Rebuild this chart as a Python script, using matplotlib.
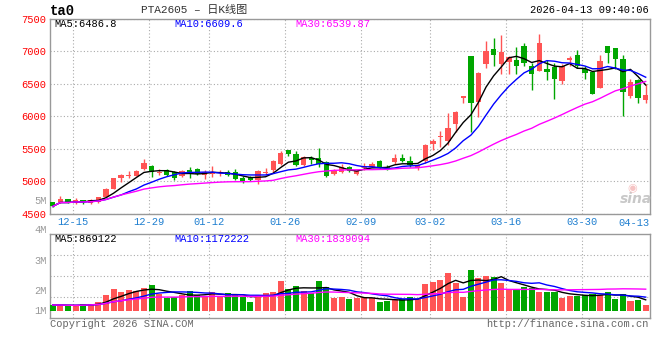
import numpy as np
import pandas as pd
import matplotlib
matplotlib.use("Agg")
import matplotlib.pyplot as plt

# -------------------------------------------------------------------
# Data (PTA2605 daily candles, 12-10 .. 04-13)
# -------------------------------------------------------------------
open_ = [4677, 4682, 4723, 4677, 4702, 4655, 4671, 4760, 4885, 5045,
         5085, 5085, 5180, 5231, 5130, 5170, 5135, 5078, 5170, 5180,
         5093, 5115, 5125, 5139, 5135, 5043, 5063, 5017, 5125, 5170,
         5266, 5474, 5413, 5246, 5363, 5363, 5287, 5109, 5144, 5211,
         5113, 5195, 5219, 5306, 5219, 5296, 5357, 5316, 5209, 5306,
         5571, 5678, 5617, 5882, 6275, 6928, 6214, 6811, 7040, 6807,
         6837, 6873, 7076, 6781, 6705, 6730, 6756, 6542, 6873, 6949,
         6730, 6680, 6440, 7076, 7046, 6883, 6313, 6557, 6252]
high = [4680, 4763, 4730, 4732, 4715, 4720, 4760, 4891, 5055, 5104,
        5155, 5175, 5337, 5246, 5190, 5185, 5150, 5165, 5220, 5195,
        5170, 5235, 5170, 5170, 5180, 5074, 5075, 5170, 5200, 5322,
        5459, 5474, 5457, 5390, 5387, 5505, 5311, 5185, 5261, 5230,
        5175, 5280, 5290, 5320, 5245, 5413, 5413, 5382, 5270, 5576,
        5653, 5780, 6056, 6086, 6311, 6928, 6683, 7157, 7208, 7254,
        6924, 7061, 7137, 6822, 7270, 6873, 6822, 6807, 6934, 7025,
        6781, 6680, 6949, 7076, 7046, 6949, 6578, 6578, 6491]
low = [4600, 4662, 4665, 4651, 4651, 4645, 4665, 4755, 4875, 4991,
       5052, 5075, 5170, 5068, 5093, 5078, 5017, 5070, 5052, 5090,
       5037, 5065, 5083, 5080, 5017, 4976, 5005, 4956, 5093, 5119,
       5246, 5383, 5231, 5231, 5261, 5220, 5058, 5093, 5119, 5140,
       5100, 5170, 5210, 5209, 5178, 5260, 5296, 5219, 5178, 5280,
       5484, 5525, 5551, 5755, 6199, 5755, 5984, 6749, 6775, 6644,
       6644, 6644, 6781, 6400, 6705, 6552, 6262, 6491, 6781, 6746,
       6578, 6349, 6440, 6822, 6735, 6008, 6288, 6212, 6201]
close = [4610, 4728, 4671, 4702, 4677, 4705, 4754, 4880, 5048, 5093,
         5100, 5154, 5272, 5135, 5143, 5098, 5052, 5154, 5139, 5104,
         5135, 5145, 5131, 5093, 5032, 4997, 5017, 5150, 5137, 5307,
         5439, 5424, 5246, 5372, 5327, 5256, 5083, 5159, 5211, 5159,
         5159, 5230, 5260, 5219, 5194, 5352, 5311, 5255, 5245, 5551,
         5612, 5698, 5826, 6071, 6311, 6199, 6668, 7004, 6938, 6990,
         6908, 6781, 6822, 6644, 7137, 6685, 6578, 6771, 6893, 6771,
         6669, 6349, 6847, 6975, 6888, 6379, 6527, 6288, 6328]
volume = [510000, 510000, 450000, 450000, 570000, 630000, 780000, 1410000, 1950000, 1680000,
          1860000, 1770000, 2040000, 2310000, 1470000, 1170000, 1230000, 1410000, 1770000, 1410000,
          1350000, 1680000, 1230000, 1590000, 1410000, 1260000, 780000, 1410000, 1590000, 1680000,
          2670000, 1950000, 2220000, 1770000, 1620000, 2670000, 2130000, 1170000, 1230000, 1050000,
          1170000, 1230000, 1110000, 780000, 870000, 960000, 1050000, 1260000, 1050000, 2400000,
          2580000, 2760000, 3390000, 2520000, 1260000, 3660000, 2970000, 3120000, 3030000, 2520000,
          1950000, 1950000, 2160000, 2010000, 1710000, 1710000, 1650000, 1170000, 1350000, 1350000,
          1410000, 1470000, 1410000, 1680000, 1050000, 1500000, 870000, 960000, 510000]

date_idx = [3, 13, 21, 31, 41, 50, 60, 70]
date_labels = ["12-15", "12-29", "01-12", "01-26", "02-09", "03-02", "03-16", "03-30"]
last_date = "04-13"

price_ticks = [4500, 5000, 5500, 6000, 6500, 7000, 7500]
vol_labels = ["5M", "4M", "3M", "2M", "1M"]

ma_text = ["MA5:6486.8", "MA10:6609.6", "MA30:6539.87"]
vol_ma_text = ["MA5:869122", "MA10:1172222", "MA30:1839094"]

# -------------------------------------------------------------------
# Style
# -------------------------------------------------------------------
W, H = 660, 360
MONO = "Liberation Mono"
RED = "#ff5454"
GREEN = "#00a600"
GRID = dict(color="#aaaaaa", linestyle=(0, (1, 2)), linewidth=0.8)
MA_COLORS = ["black", "#0000ff", "#ff00ff"]


def fx(px):
    return px / W


def fy(py):
    return 1 - py / H


df = pd.DataFrame({"open": open_, "high": high, "low": low,
                   "close": close, "volume": volume})
x = np.arange(len(df))
up = df["close"] >= df["open"]
colors = np.where(up, RED, GREEN)

fig = plt.figure(figsize=(W / 100, H / 100), dpi=100)
ax = fig.add_axes([fx(50), fy(213.5), fx(599.5), 194.5 / H])
axv = fig.add_axes([fx(50), fy(318), fx(599.5), 84 / H])

# -------------------------------------------------------------------
# Price panel
# -------------------------------------------------------------------
ax.vlines(x, df["low"], df["high"], colors=colors, linewidth=1, zorder=3)
body = (df["close"] - df["open"]).abs().clip(lower=12)
ax.bar(x, body, bottom=df[["open", "close"]].min(axis=1), width=0.7,
       color=colors, linewidth=0, zorder=3)

for w, c in zip([5, 10, 30], MA_COLORS):
    ax.plot(x, df["close"].rolling(w, min_periods=1).mean(),
            color=c, linewidth=1, zorder=4)

ax.set_xlim(-0.36, 78.5)
ax.set_ylim(4500, 7500)
ax.set_yticks(price_ticks)
ax.set_yticklabels([str(t) for t in price_ticks], color="#ff0000",
                   fontsize=7.5, family=MONO)
ax.set_xticks([i - 0.4 for i in date_idx])
ax.set_xticklabels(date_labels, color="#1f7fd0", fontsize=7.5, family=MONO)
ax.tick_params(length=0, pad=2.5)
ax.grid(True, **GRID)
ax.set_axisbelow(True)
ax.text(1.0, -0.022, last_date, transform=ax.transAxes, ha="right", va="top",
        color="#1f7fd0", fontsize=7.5, family=MONO)

# -------------------------------------------------------------------
# Volume panel
# -------------------------------------------------------------------
axv.bar(x, df["volume"], width=0.8, color=colors, linewidth=0, zorder=3)
for w, c in zip([5, 10, 30], MA_COLORS):
    axv.plot(x, df["volume"].rolling(w, min_periods=1).mean(),
             color=c, linewidth=1, zorder=4)

v_lo, v_hi = -657000, 6900000
axv.set_xlim(ax.get_xlim())
axv.set_ylim(v_lo, v_hi)
axv.set_xticks([i - 0.4 for i in date_idx])
axv.set_xticklabels([])
axv.set_yticks([v_lo + f * (v_hi - v_lo) for f in (0.25, 0.5, 0.75)])
axv.set_yticklabels([])
axv.tick_params(length=0)
axv.grid(True, **GRID)
axv.set_axisbelow(True)

for a in (ax, axv):
    for s in a.spines.values():
        s.set_color("#999999")
        s.set_linewidth(1)

# -------------------------------------------------------------------
# Texts
# -------------------------------------------------------------------
fig.text(fx(50), fy(11), "ta0", fontsize=10, fontweight="bold",
         family=MONO, va="center")
fig.text(fx(141), fy(9.5), "PTA2605 – 日K线图", fontsize=8, color="#333333",
         family=[MONO, "Noto Sans CJK SC"], va="center")
fig.text(fx(649), fy(10), "2026-04-13 09:40:06", fontsize=7.5,
         family=MONO, ha="right", va="center")

for xp, t, c in zip([54, 174, 295], ma_text, MA_COLORS):
    fig.text(fx(xp), fy(24), t, color=c, fontsize=7.5, family=MONO, va="center")
for xp, t, c in zip([54, 174, 295], vol_ma_text, MA_COLORS):
    fig.text(fx(xp), fy(238.5), t, color=c, fontsize=7.5, family=MONO, va="center")

for yp, t in zip([201, 230, 260.5, 290.5, 310.5], vol_labels):
    fig.text(fx(46.5), fy(yp), t, color="#999999", fontsize=7.5,
             family=MONO, ha="right", va="center")

fig.text(fx(50), fy(324), "Copyright 2026 SINA.COM", color="#666666",
         fontsize=7.5, family=MONO, va="center")
fig.text(fx(649), fy(324), "http://finance.sina.com.cn", color="#666666",
         fontsize=7.5, family=MONO, ha="right", va="center")

# faint sina watermark
fig.text(fx(636), fy(199), "sina", color="#c8c8c8", fontsize=10,
         fontweight="bold", style="italic", ha="center", va="center")
fig.text(fx(632), fy(188), "◉", color="#f6c4c4", fontsize=8,
         ha="center", va="center")

fig.savefig("out.png", dpi=100)
